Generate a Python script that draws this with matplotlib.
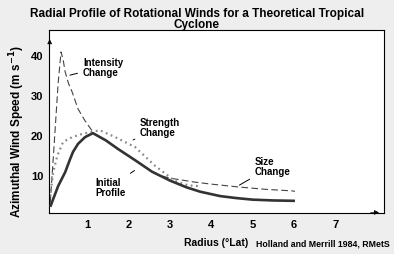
import matplotlib
matplotlib.use('Agg')
import matplotlib.pyplot as plt

plt.rcParams['font.family'] = ['Liberation Sans', 'DejaVu Sans']
plt.rcParams['font.weight'] = 'bold'

# radius (deg lat) and wind speed (m/s)
initial_r = [0.11, 0.30, 0.47, 0.59, 0.66, 0.78, 0.95, 1.14, 1.45, 1.75, 2.16, 2.57,
             3.0, 3.4, 3.73, 4.21, 4.6, 5.0, 5.5, 6.02]
initial_v = [2.0, 7.2, 10.7, 14.0, 15.8, 17.8, 19.5, 20.5, 18.7, 16.5, 13.7, 10.8,
             8.6, 6.9, 5.8, 4.7, 4.2, 3.8, 3.6, 3.5]

intensity_r = [0.11, 0.2, 0.3, 0.37, 0.42, 0.47, 0.55, 0.64, 0.78, 0.95, 1.14]
intensity_v = [3.0, 17.0, 33.0, 40.9, 39.0, 35.9, 33.0, 30.8, 26.6, 23.6, 20.8]

strength_r = [0.11, 0.18, 0.28, 0.42, 0.64, 0.88, 1.19, 1.31, 1.68, 2.16, 2.64,
              3.12, 3.44, 3.7]
strength_v = [4.7, 10.7, 14.8, 18.3, 19.5, 20.3, 21.0, 21.2, 19.5, 17.0, 12.3,
              8.5, 7.4, 7.2]

size_r = [2.6, 2.72, 3.0, 3.3, 3.6, 4.0, 4.64, 5.3, 5.95, 6.02]
size_v = [10.8, 10.0, 9.2, 8.7, 8.2, 7.7, 7.0, 6.4, 6.0, 5.9]

x_ticks = [1, 2, 3, 4, 5, 6, 7]
y_ticks = [10, 20, 30, 40]

fig = plt.figure(figsize=(3.94, 2.55), dpi=100)
fig.patch.set_facecolor('#eeeeee')
ax = fig.add_axes([0.1244, 0.1608, 0.8502, 0.7176])
ax.set_facecolor('white')

ax.plot(intensity_r, intensity_v, color='#444444', lw=0.8, dashes=(6, 3), zorder=2)
ax.plot(size_r, size_v, color='#444444', lw=0.8, dashes=(6, 3), zorder=2)
ax.plot(strength_r, strength_v, color='#888888', lw=1.6, dashes=(0.8, 1.6), zorder=2)
ax.plot(initial_r, initial_v, color='#333333', lw=1.9, zorder=3, solid_capstyle='butt')

ax.set_xlim(0.08, 8.17)
ax.set_ylim(0.45, 46.4)
ax.set_xticks(x_ticks)
ax.set_yticks(y_ticks)
ax.tick_params(length=0, labelsize=8, pad=4)
for lab in ax.get_xticklabels() + ax.get_yticklabels():
    lab.set_fontweight('bold')
for s in ax.spines.values():
    s.set_linewidth(0.8)
    s.set_color('black')

# arrow heads on the axes (spines are the shafts)
ax.annotate('', xy=(0.002, 0.95), xytext=(0.002, 0.9), xycoords='axes fraction',
            arrowprops=dict(arrowstyle='-|>', color='black', lw=0.5, mutation_scale=7,
                            shrinkA=0, shrinkB=0))
ax.annotate('', xy=(0.985, 0.003), xytext=(0.96, 0.003), xycoords='axes fraction',
            arrowprops=dict(arrowstyle='-|>', color='black', lw=0.5, mutation_scale=7,
                            shrinkA=0, shrinkB=0))

ax.set_xlabel('Radius (°Lat)', fontsize=7.5, fontweight='bold', labelpad=6)
ax.set_ylabel('Azimuthal Wind Speed (m s$^{\\mathbf{-1}}$)', fontsize=8.5,
              fontweight='bold')
ax.yaxis.set_label_coords(-0.066, 0.45)
fig.suptitle('Radial Profile of Rotational Winds for a Theoretical Tropical\nCyclone',
             x=0.5, y=0.97, fontsize=8.5, fontweight='bold', linespacing=0.95)

kw = dict(fontsize=7, fontweight='bold', linespacing=1.0, va='center', ha='left')
lw_lead = dict(arrowstyle='-', color='black', lw=0.7)
ax.annotate('Intensity\nChange', xy=(0.52, 34.9), xytext=(0.9, 37.1),
            arrowprops=lw_lead, **kw)
ax.annotate('Strength\nChange', xy=(2.05, 18.5), xytext=(2.28, 22.0),
            arrowprops=lw_lead, **kw)
ax.annotate('Initial\nProfile', xy=(2.2, 11.5), xytext=(1.19, 7.0),
            arrowprops=lw_lead, **kw)
ax.annotate('Size\nChange', xy=(4.62, 7.1), xytext=(5.05, 12.3),
            arrowprops=lw_lead, **kw)

fig.text(0.99, 0.027, 'Holland and Merrill 1984, RMetS', fontsize=6.3,
         fontweight='bold', ha='right', va='bottom')

fig.savefig('out.png', dpi=100, facecolor=fig.get_facecolor())
